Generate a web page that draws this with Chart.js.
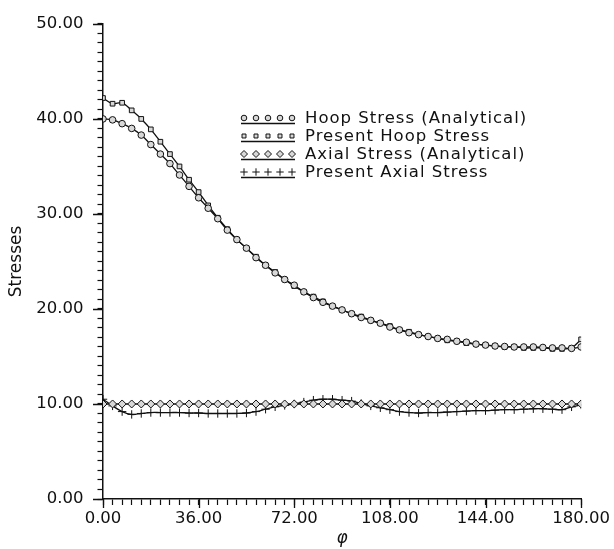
<!DOCTYPE html>
<html>
<head>
<meta charset="utf-8">
<script src="https://cdn.jsdelivr.net/npm/chart.js@4/dist/chart.umd.min.js"></script>
<style>
  html, body { margin: 0; padding: 0; background: #fff; }
  canvas { display: block; }
</style>
</head>
<body>
<canvas id="stressChart" width="614" height="549"></canvas>
<script>
// angle phi (deg) at the plotted nodes
const phi = [0, 3.6, 7.2, 10.8, 14.4, 18, 21.6, 25.2, 28.8, 32.4, 36, 39.6, 43.2, 46.8, 50.4,
  54, 57.6, 61.2, 64.8, 68.4, 72, 75.6, 79.2, 82.8, 86.4, 90, 93.6, 97.2, 100.8, 104.4, 108,
  111.6, 115.2, 118.8, 122.4, 126, 129.6, 133.2, 136.8, 140.4, 144, 147.6, 151.2, 154.8, 158.4,
  162, 165.6, 169.2, 172.8, 176.4, 180];

const hoopAnalytical = [40.0, 39.9, 39.5, 39.0, 38.3, 37.3, 36.3, 35.3, 34.1, 32.9, 31.7, 30.6,
  29.5, 28.3, 27.3, 26.4, 25.4, 24.6, 23.8, 23.1, 22.5, 21.8, 21.2, 20.7, 20.3, 19.9, 19.5, 19.1,
  18.8, 18.5, 18.1, 17.8, 17.5, 17.3, 17.1, 16.9, 16.8, 16.6, 16.5, 16.3, 16.2, 16.1, 16.05, 16.0,
  16.0, 16.0, 15.95, 15.9, 15.9, 15.85, 16.0];

const hoopPresent = [42.2, 41.6, 41.7, 40.9, 40.0, 38.9, 37.6, 36.3, 35.0, 33.6, 32.3, 30.9,
  29.6, 28.4, 27.3, 26.4, 25.5, 24.6, 23.9, 23.1, 22.4, 21.8, 21.3, 20.8, 20.3, 19.9, 19.5, 19.2,
  18.8, 18.5, 18.2, 17.8, 17.6, 17.3, 17.1, 16.9, 16.7, 16.6, 16.4, 16.3, 16.2, 16.1, 16.0, 16.0,
  15.9, 15.9, 15.9, 15.8, 15.8, 15.9, 16.8];

const axialAnalytical = [10, 10, 10, 10, 10, 10, 10, 10, 10, 10, 10, 10, 10, 10, 10, 10, 10,
  10, 10, 10, 10, 10, 10, 10, 10, 10, 10, 10, 10, 10, 10, 10, 10, 10, 10, 10, 10, 10, 10, 10,
  10, 10, 10, 10, 10, 10, 10, 10, 10, 10, 10];

const axialPresent = [10.5, 9.8, 9.2, 8.9, 9.0, 9.1, 9.1, 9.1, 9.1, 9.05, 9.05, 9.0, 9.0, 9.0,
  9.0, 9.05, 9.2, 9.45, 9.7, 9.85, 10.0, 10.2, 10.4, 10.5, 10.5, 10.4, 10.3, 10.05, 9.8, 9.6,
  9.4, 9.2, 9.1, 9.05, 9.1, 9.1, 9.15, 9.2, 9.25, 9.3, 9.3, 9.35, 9.4, 9.4, 9.45, 9.5, 9.5,
  9.45, 9.4, 9.7, 9.9];

const seriesNames = ["Hoop Stress (Analytical)", "Present Hoop Stress",
  "Axial Stress (Analytical)", "Present Axial Stress"];
const seriesValues = [hoopAnalytical, hoopPresent, axialAnalytical, axialPresent];
const markerStyles = ["circle", "rect", "rectRot", "cross"];
const markerSizes = [3.3, 3.3, 4, 4.2];

const FONT = "'DejaVu Sans', sans-serif";
const INK = "#111";

const toPoints = (vals) => phi.map((p, i) => ({ x: p, y: vals[i] }));

const datasets = seriesValues.map((vals, i) => ({
  label: seriesNames[i],
  data: toPoints(vals),
  borderColor: INK,
  borderWidth: 1.3,
  backgroundColor: "#d8d8d8",
  pointStyle: markerStyles[i],
  pointRadius: markerSizes[i],
  pointBorderColor: INK,
  pointBorderWidth: 1,
  pointBackgroundColor: "#d8d8d8",
  tension: 0.35,
  fill: false,
}));

const isMultiple = (v, step) => Math.abs(v / step - Math.round(v / step)) < 1e-6;

// legend drawn like the plotter one: five markers over a short line
const plotterLegend = {
  id: "plotterLegend",
  afterDraw(chart) {
    const ctx = chart.ctx;
    const rowY = [118, 136, 154, 172];
    const markX = [244, 256, 268, 280, 292];
    ctx.save();
    seriesNames.forEach((name, i) => {
      const y = rowY[i];
      ctx.strokeStyle = INK;
      ctx.lineWidth = 1.3;
      ctx.beginPath();
      ctx.moveTo(241, y + 5.5);
      ctx.lineTo(295, y + 5.5);
      ctx.stroke();
      markX.forEach((x) => {
        ctx.fillStyle = "#d8d8d8";
        ctx.strokeStyle = INK;
        ctx.lineWidth = 1;
        Chart.helpers.drawPoint(ctx, {
          pointStyle: markerStyles[i],
          radius: markerSizes[i] - 0.5,
          rotation: 0,
          borderWidth: 1,
        }, x, y);
      });
      ctx.fillStyle = INK;
      ctx.font = "16.5px " + FONT;
      if ("letterSpacing" in ctx) ctx.letterSpacing = "1px";
      ctx.textBaseline = "middle";
      ctx.textAlign = "left";
      ctx.fillText(name, 305, y + 1);
    });
    ctx.restore();
  },
};

// longer ticks at the labelled values
const majorTicks = {
  id: "majorTicks",
  afterDraw(chart) {
    const { ctx, scales: { x, y } } = chart;
    ctx.save();
    ctx.strokeStyle = INK;
    ctx.lineWidth = 1.3;
    ctx.beginPath();
    x.ticks.forEach((t) => {
      if (!isMultiple(t.value, 36)) return;
      const px = Math.round(x.getPixelForValue(t.value)) + 0.5;
      ctx.moveTo(px, x.top);
      ctx.lineTo(px, x.top + 9);
    });
    y.ticks.forEach((t) => {
      if (!isMultiple(t.value, 10)) return;
      const py = Math.round(y.getPixelForValue(t.value)) + 0.5;
      ctx.moveTo(y.right - 10, py);
      ctx.lineTo(y.right, py);
    });
    ctx.stroke();
    ctx.restore();
  },
};

const ctx = document.getElementById("stressChart").getContext("2d");
new Chart(ctx, {
  type: "line",
  data: { datasets },
  options: {
    responsive: false,
    animation: false,
    layout: { padding: { top: 16, right: 27, left: 0, bottom: 0 } },
    plugins: {
      legend: { display: false },
      tooltip: { enabled: false },
    },
    scales: {
      x: {
        type: "linear",
        min: 0,
        max: 180,
        afterFit: (scale) => { scale.height = 50; },
        border: { display: true, color: INK, width: 1.5 },
        grid: {
          drawOnChartArea: false,
          drawTicks: true,
          tickLength: 6,
          tickColor: INK,
          tickWidth: 1.2,
        },
        ticks: {
          stepSize: 3.6,
          autoSkip: false,
          maxRotation: 0,
          padding: 4,
          color: INK,
          font: { family: FONT, size: 16.5 },
          callback: (v) => (isMultiple(v, 36) ? v.toFixed(2) : ""),
        },
        title: {
          display: true,
          text: "φ",
          color: INK,
          padding: { top: 0, bottom: 0 },
          font: { family: FONT, size: 17, style: "italic" },
        },
      },
      y: {
        min: 0,
        max: 50,
        afterFit: (scale) => { scale.width = 103; },
        border: { display: true, color: INK, width: 1.5 },
        grid: {
          drawOnChartArea: false,
          drawTicks: true,
          tickLength: 5.5,
          tickColor: INK,
          tickWidth: 1.2,
        },
        ticks: {
          stepSize: 1,
          autoSkip: false,
          padding: 14,
          color: INK,
          font: { family: FONT, size: 16.5 },
          callback: (v) => (isMultiple(v, 10) ? v.toFixed(2) : ""),
        },
        title: {
          display: true,
          text: "Stresses",
          color: INK,
          padding: { top: 6, bottom: 0 },
          font: { family: FONT, size: 17 },
        },
      },
    },
  },
  plugins: [plotterLegend, majorTicks],
});
</script>
</body>
</html>
